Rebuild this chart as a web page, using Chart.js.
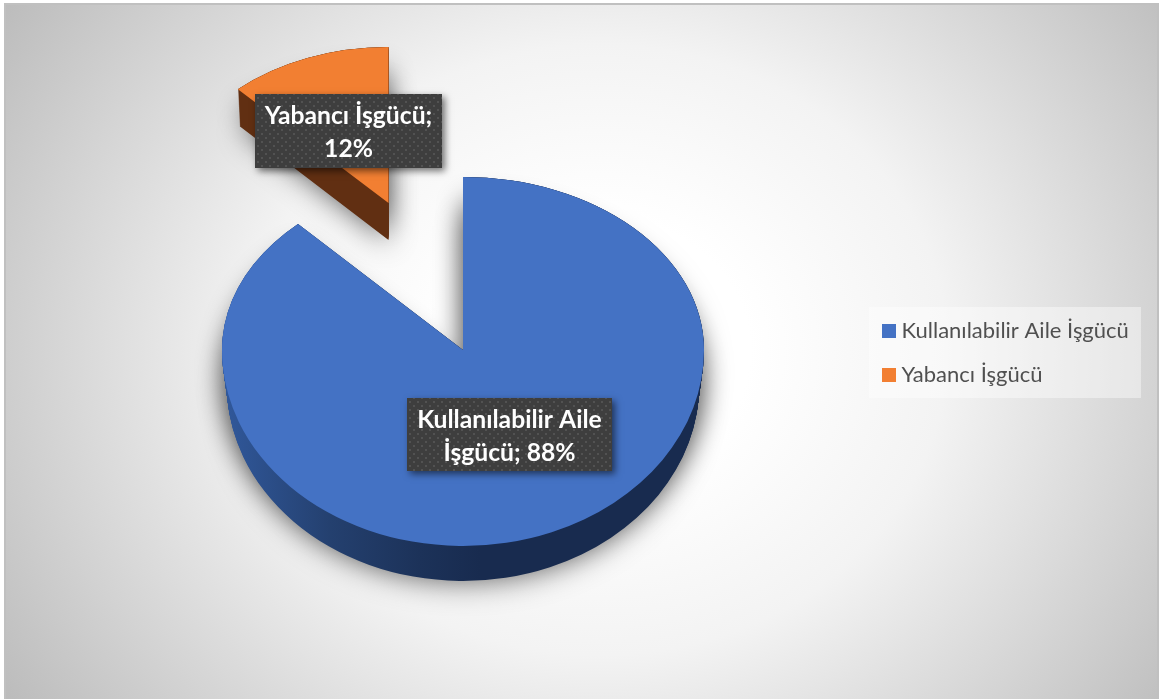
<!DOCTYPE html>
<html lang="tr">
<head>
<meta charset="utf-8">
<title>İşgücü</title>
<script src="https://cdn.jsdelivr.net/npm/chart.js@4"></script>
<style>html,body{margin:0;padding:0;background:#fff;overflow:hidden}canvas{display:block}</style>
</head>
<body>
<canvas id="c" width="1162" height="699"></canvas>
<script>
const categories = ['Kullanılabilir Aile İşgücü', 'Yabancı İşgücü'];
const values = [88, 12];
const sliceColors = ['#4472C4', '#F27F32'];
const labelLines = [['Kullanılabilir Aile', 'İşgücü; 88%'], ['Yabancı İşgücü;', '12%']];

// Projected 3D look of each slice (screen geometry, not data)
const views = [
  {ax: 463, ay: 350, rx: 241, ryTop: 173, ryBot: 196, depth: 35, shrink: 0.02, wall: [[228,'#305799'],[330,'#24406f'],[420,'#1c3259'],[480,'#182b4f']]},
  {ax: 388.5, ay: 203, rx: 220, ryTop: 156, ryBot: 156, depth: 37, shrink: 0.012, wall: [[230,'#612f12'],[390,'#612f12']]}
];
const labelBoxes = [
  {x: 407, y: 398, w: 205, h: 73, base: [428, 461]},
  {x: 255, y: 94, w: 187, h: 74, base: [124, 157]}
];
const legendPanel = {x: 869, y: 307, w: 272, h: 91};

function drawSlice(ctx, arc, v, shift, fill, k) {
  const R = arc.outerRadius;
  const proxy = Object.create(arc);
  proxy.options = {backgroundColor: fill(R, k), borderColor: 'transparent', borderWidth: 0, borderAlign: 'center',
    offset: 0, spacing: 0, circular: true, borderRadius: 0, borderDash: [], borderDashOffset: 0, borderJoinStyle: 'round'};
  const cy = Math.round(v.ay + shift);
  [[-2000, cy + 2000, v.ryTop], [cy, 2000, v.ryBot]].forEach(([y0, h, ry]) => {
    ctx.save();
    ctx.beginPath();
    ctx.rect(-100, y0, 1500, h);
    ctx.clip();
    ctx.translate(v.ax, v.ay + shift);
    ctx.scale(v.rx * k / R, ry / R);
    ctx.translate(-arc.x, -arc.y);
    proxy.draw(ctx);
    ctx.restore();
  });
}

const pie3d = {
  id: 'pie3d',
  beforeDraw(chart) {
    const ctx = chart.ctx;
    ctx.save();
    ctx.fillStyle = '#fff';
    ctx.fillRect(0, 0, 1162, 699);
    ctx.beginPath();
    ctx.rect(5, 4, 1153, 695);
    ctx.clip();
    ctx.translate(600, 350);
    ctx.scale(1.25, 1.1);
    const g = ctx.createRadialGradient(0, 0, 120, 0, 0, 570);
    g.addColorStop(0, '#ffffff');
    g.addColorStop(0.35, '#f3f3f3');
    g.addColorStop(1, '#bcbcbc');
    ctx.fillStyle = g;
    ctx.fillRect(-600, -400, 1200, 800);
    ctx.restore();
    ctx.strokeStyle = '#c0c0c0';
    ctx.lineWidth = 2;
    ctx.beginPath();
    ctx.moveTo(5, 699); ctx.lineTo(5, 4); ctx.lineTo(1158, 4); ctx.lineTo(1158, 699);
    ctx.stroke();
    ctx.fillStyle = 'rgba(255,255,255,0.42)';
    ctx.fillRect(legendPanel.x, legendPanel.y, legendPanel.w, legendPanel.h);
  },
  afterLayout(chart) {
    const lg = chart.legend;
    lg.left = 865; lg.right = legendPanel.x + legendPanel.w;
    lg.top = 297; lg.bottom = 460;
  },
  beforeDatasetsDraw(chart) {
    const ctx = chart.ctx;
    const arcs = chart.getDatasetMeta(0).data;
    [1, 0].forEach(i => {
      const v = views[i], arc = arcs[i];
      const wallFill = (R, k) => {
        const sc = v.rx * k / R;
        const toUser = sx => arc.x + (sx - v.ax) / sc;
        const g = ctx.createLinearGradient(toUser(v.wall[0][0]), 0, toUser(v.wall[v.wall.length - 1][0]), 0);
        const x0 = v.wall[0][0], x1 = v.wall[v.wall.length - 1][0];
        v.wall.forEach(([x, c]) => g.addColorStop((x - x0) / (x1 - x0), c));
        return g;
      };
      ctx.save();
      ctx.shadowColor = 'rgba(0,0,0,0.5)';
      ctx.shadowBlur = 26;
      ctx.shadowOffsetY = 22;
      drawSlice(ctx, arc, v, 0, wallFill, 1);
      ctx.shadowColor = 'rgba(0,0,0,0.4)';
      ctx.shadowBlur = 28;
      ctx.shadowOffsetY = 5;
      drawSlice(ctx, arc, v, v.depth, wallFill, 1 - v.shrink);
      ctx.restore();
      for (let s = v.depth - 1; s >= 0; s--) {
        drawSlice(ctx, arc, v, s, wallFill, 1 - v.shrink * s / v.depth);
      }
      drawSlice(ctx, arc, v, 0, () => arc.options.backgroundColor, 1);
    });
    return false;
  },
  afterDraw(chart) {
    const ctx = chart.ctx;
    const pc = document.createElement('canvas');
    pc.width = pc.height = 8;
    const p = pc.getContext('2d');
    p.fillStyle = '#3e3e3e'; p.fillRect(0, 0, 8, 8);
    p.fillStyle = '#525252'; p.fillRect(1, 1, 2, 2); p.fillRect(5, 5, 2, 2);
    const pat = ctx.createPattern(pc, 'repeat');
    labelBoxes.forEach((b, i) => {
      ctx.save();
      ctx.shadowColor = 'rgba(0,0,0,0.55)';
      ctx.shadowBlur = 7;
      ctx.shadowOffsetX = 3;
      ctx.shadowOffsetY = 3;
      ctx.fillStyle = '#3e3e3e';
      ctx.fillRect(b.x, b.y, b.w, b.h);
      ctx.restore();
      ctx.fillStyle = pat;
      ctx.fillRect(b.x, b.y, b.w, b.h);
      ctx.fillStyle = '#fff';
      ctx.font = 'bold 24.7px Lato';
      ctx.textAlign = 'center';
      ctx.textBaseline = 'alphabetic';
      labelLines[i].forEach((t, j) => ctx.fillText(t, b.x + b.w / 2, b.base[j]));
    });
  }
};

function square(color) {
  const s = document.createElement('canvas');
  s.width = s.height = 14;
  const x = s.getContext('2d');
  x.fillStyle = color;
  x.fillRect(0, 0, 14, 14);
  return s;
}

new Chart(document.getElementById('c'), {
  type: 'pie',
  data: {
    labels: categories,
    datasets: [{data: values, backgroundColor: sliceColors, borderWidth: 0}]
  },
  options: {
    responsive: false,
    animation: false,
    plugins: {
      tooltip: {enabled: false},
      legend: {
        position: 'right',
        align: 'start',
        labels: {
          color: '#505050',
          font: {family: 'Lato', size: 22},
          usePointStyle: true,
          pointStyleWidth: 3,
          padding: 22.5,
          generateLabels(chart) {
            return Chart.overrides.pie.plugins.legend.labels.generateLabels(chart)
              .map((it, i) => Object.assign(it, {pointStyle: square(sliceColors[i])}));
          }
        }
      }
    }
  },
  plugins: [pie3d]
});
</script>
</body>
</html>
